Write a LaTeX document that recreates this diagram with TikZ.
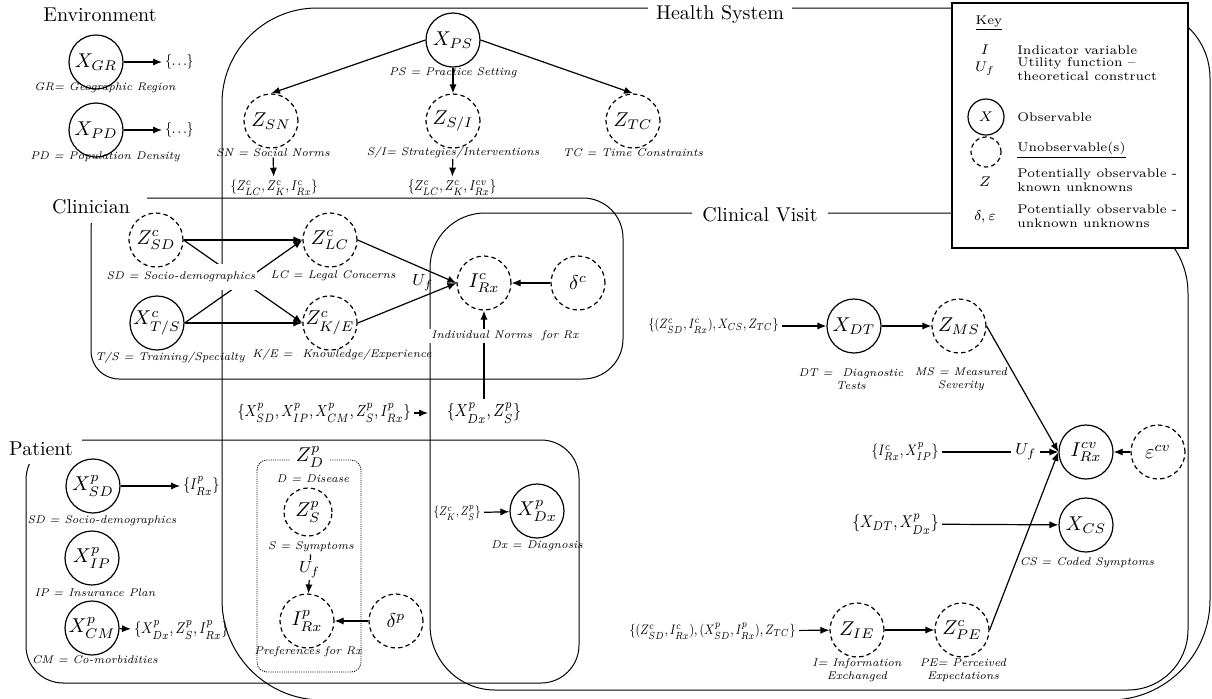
\documentclass[tikz,border=0pt]{standalone}
\usetikzlibrary{arrows.meta}
\newcommand\fitw[2]{\scalebox{1}[1.22]{\resizebox{#1}{!}{#2}}}
\begin{document}
\begin{tikzpicture}[x=0.5pt,y=-0.5pt,
  every node/.style={inner sep=0pt},
  region/.style={line width=0.5pt},
  obs/.style={circle,draw,line width=0.6pt,minimum size=27pt,inner sep=0pt,font=\fontsize{10}{12}\selectfont},
  unobs/.style={obs,dash pattern=on 2.2pt off 1.6pt},
  lbl/.style={font=\fontsize{5.6}{6.4}\selectfont\itshape,align=center},
  setn/.style={font=\fontsize{8}{9}\selectfont,inner sep=1.5pt},
  sect/.style={font=\fontsize{10}{12}\selectfont,fill=white,inner xsep=4pt,inner ysep=2pt},
  arr/.style={-{Latex[length=4.5pt,width=3.6pt]},line width=0.6pt},
  keytxt/.style={font=\fontsize{6.3}{6.7}\selectfont,align=left,anchor=west},
  keysym/.style={font=\fontsize{7.5}{9}\selectfont}
]
\useasboundingbox (0,0) rectangle (1212,698);

% ---------- region outlines ----------
% Health System
\draw[region] (222,600) -- (222,103) .. controls (222,50.6) and (264.6,8) .. (317,8) -- (1140,8) .. controls (1178.6,8) and (1210,39.4) .. (1210,78) -- (1210,600) .. controls (1210,655.2) and (1165.2,700) .. (1110,700) -- (322,700) .. controls (266.8,700) and (222,655.2) .. (222,600) -- cycle;
% Clinical Visit
\draw[region] (430,625) -- (430,268) .. controls (430,237.6) and (454.6,213) .. (485,213) -- (1108,213) .. controls (1152.2,213) and (1188,248.8) .. (1188,293) -- (1188,630) .. controls (1188,663.1) and (1161.1,690) .. (1128,690) -- (495,690) .. controls (459.1,690) and (430,660.9) .. (430,625) -- cycle;
% Clinician
\draw[region] (91,351) -- (91,228) .. controls (91,211.4) and (104.4,198) .. (121,198) -- (583,198) .. controls (605.1,198) and (623,215.9) .. (623,238) -- (623,339) .. controls (623,361.1) and (605.1,379) .. (583,379) -- (119,379) .. controls (103.5,379) and (91,366.5) .. (91,351) -- cycle;
% Patient
\draw[region] (26,646) -- (26,480) .. controls (26,457.9) and (43.9,440) .. (66,440) -- (541,440) .. controls (562,440) and (579,457) .. (579,478) -- (579,645) .. controls (579,666) and (562,683) .. (541,683) -- (63,683) .. controls (42.6,683) and (26,666.4) .. (26,646) -- cycle;
% Disease box
\draw[line width=0.45pt,dash pattern=on 0.5pt off 0.6pt,rounded corners=5pt] (257,460) rectangle (361,672);

% ---------- section labels ----------
\node[font=\fontsize{10}{12}\selectfont] (envlab) at (100,15) {Environment};
\node[sect] (hslab) at (720,14) {Health System};
\node[sect,inner xsep=5pt] (cvlab) at (760,215) {Clinical Visit};
\node[sect,minimum width=56pt,minimum height=16pt] (cllab) at (91,207) {Clinician};
\node[sect,minimum width=41pt,minimum height=15pt] (palab) at (41,449) {Patient};

% ---------- Environment ----------
\node[obs] (xgr) at (96,62) {$X_{GR}$};
\node[lbl] (xgrl) at (105,88) {GR= Geographic Region};
\node[setn,anchor=west] (xgrs) at (162,62) {\fitw{14pt}{$\{\ldots\}$}};
\draw[arr] (xgr) -- (xgrs);
\node[obs] (xpd) at (96,130) {$X_{PD}$};
\node[lbl] (xpdl) at (105,157) {PD = Population Density};
\node[setn,anchor=west] (xpds) at (162,130) {\fitw{14pt}{$\{\ldots\}$}};
\draw[arr] (xpd) -- (xpds);

% ---------- Health System ----------
\node[obs] (xps) at (453,40) {$X_{PS}$};
\node[lbl] (xpsl) at (453,73) {PS = Practice Setting};
\node[unobs] (zsn) at (271,121) {$Z_{SN}$};
\node[lbl] (zsnl) at (273,153) {SN = Social Norms};
\node[unobs] (zsi) at (453,121) {$Z_{S/I}$};
\node[lbl] (zsil) at (453,153) {S/I= Strategies/Interventions};
\node[unobs] (ztc) at (633,121) {$Z_{TC}$};
\node[lbl] (ztcl) at (633,153) {TC = Time Constraints};
\draw[arr] (xps.west) -- (zsn.north);
\draw[arr] (xps.south) -- (zsi.north);
\draw[arr] (xps.east) -- (ztc.north);
\node[setn] (snset) at (274,188) {\fitw{43.5pt}{$\{Z^{c}_{LC}, Z^{c}_{K}, I^{c}_{Rx}\}$}};
\node[setn] (siset) at (452,188) {\fitw{44pt}{$\{Z^{c}_{LC}, Z^{c}_{K}, I^{cv}_{Rx}\}$}};
\draw[arr] (zsnl) -- (snset);
\draw[arr] (zsil) -- (siset);

% ---------- Clinician ----------
\node[unobs] (zsdc) at (156,240) {$Z^{c}_{SD}$};
\node[obs] (xtsc) at (157,323) {$X^{c}_{T/S}$};
\node[unobs] (zlc) at (330,240) {$Z^{c}_{LC}$};
\node[unobs] (zke) at (330,323) {$Z^{c}_{K/E}$};
\node[lbl] (xtscl) at (170,358) {T/S = Training/Specialty};
\node[lbl] (zkel) at (342,355) {K/E =\ \ Knowledge/Experience};
\node[lbl] (zlcl) at (333,276) {LC = Legal Concerns};
\draw[arr] (zsdc.east) -- (zlc.west);
\draw[arr] (xtsc.east) -- (zke.west);
\draw[arr] (zsdc.east) -- (zke.west);
\draw[arr] (xtsc.east) -- (zlc.west);
\fill[white] (190,264) rectangle (257,290);
\node[lbl] (zsdcl) at (181,277) {SD = Socio-demographics};

\node[unobs] (irxc) at (484,283) {$I^{c}_{Rx}$};
\node[unobs] (dc) at (578,283) {$\delta^{c}$};
\draw[arr] (dc.west) -- (irxc.east);
\draw[arr] (zlc.east) -- (irxc.west);
\draw[arr] (zke.east) -- (irxc.west);
\node[font=\fontsize{8}{9}\selectfont] (ufc) at (423,283) {$U_f$};
\node[setn] (dxset) at (484,413) {\fitw{37pt}{$\{X^{p}_{Dx}, Z^{p}_{S}\}$}};
\draw[arr] (dxset) -- (irxc);
\node[lbl,fill=white,inner sep=1pt] (irxcl) at (505,336) {Individual Norms\ \ for Rx};
\node[setn,anchor=east] (pset) at (414,413) {\fitw{86.5pt}{$\{X^{p}_{SD}, X^{p}_{IP}, X^{p}_{CM}, Z^{p}_{S}, I^{p}_{Rx}\}$}};
\coordinate (cvedge) at (428,413);
\draw[arr] (pset) -- (cvedge);

% ---------- Patient ----------
\node[obs] (xsdp) at (93,486) {$X^{p}_{SD}$};
\node[lbl] (xsdpl) at (102,521) {SD = Socio-demographics};
\node[setn,anchor=west] (xsdps) at (180,486) {\fitw{18pt}{$\{I^{p}_{Rx}\}$}};
\draw[arr] (xsdp) -- (xsdps);
\node[obs] (xipp) at (92,558) {$X^{p}_{IP}$};
\node[lbl] (xippl) at (95,593) {IP = Insurance Plan};
\node[obs] (xcmp) at (92,628) {$X^{p}_{CM}$};
\node[lbl] (xcmpl) at (95,660) {CM = Co-morbidities};
\node[setn,anchor=west] (xcmps) at (131,630) {\fitw{47pt}{$\{X^{p}_{Dx}, Z^{p}_{S}, I^{p}_{Rx}\}$}};
\draw[arr] (xcmp) -- (xcmps);

\node[font=\fontsize{10}{12}\selectfont,fill=white,inner xsep=3pt,inner ysep=0pt] (zdp) at (310,457) {$Z^{p}_{D}$};
\node[lbl] (zdpl) at (313,479) {D = Disease};
\node[unobs,minimum size=24pt] (zsp) at (308,512) {$Z^{p}_{S}$};
\node[lbl,fill=white,inner sep=1pt] (zspl) at (311,547) {S = Symptoms};
\node[unobs] (irxp) at (307,621) {$I^{p}_{Rx}$};
\node[lbl] (irxpl) at (308,652) {Preferences for Rx};
\draw[arr] (zspl) -- (irxp) node[pos=0.4,fill=white,inner sep=1pt,font=\fontsize{8}{9}\selectfont] {$U_f$};
\node[unobs] (dp) at (396,621) {$\delta^{p}$};
\draw[arr] (dp.west) -- (irxp.east);

\node[setn,anchor=east] (dxin) at (484,513) {\fitw{23.5pt}{$\{Z^{c}_{K}, Z^{p}_{S}\}$}};
\node[obs] (xdx) at (537,511) {$X^{p}_{Dx}$};
\node[lbl] (xdxl) at (537,546) {Dx = Diagnosis};
\draw[arr] (dxin) -- (xdx);

% ---------- Clinical Visit ----------
\node[setn,anchor=east] (dtin) at (782,326) {\fitw{65pt}{$\{(Z^{c}_{SD}, I^{c}_{Rx}), X_{CS}, Z_{TC}\}$}};
\node[obs] (xdt) at (854,326) {$X_{DT}$};
\node[unobs] (zms) at (959,326) {$Z_{MS}$};
\draw[arr] (dtin) -- (xdt);
\draw[arr] (xdt) -- (zms);
\node[lbl] (xdtl) at (851,379) {DT =\ \ Diagnostic\\Tests};
\node[lbl] (zmsl) at (961,379) {MS = Measured\\Severity};

\node[obs] (irxcv) at (1086,452) {$I^{cv}_{Rx}$};
\node[unobs] (ecv) at (1158,452) {$\varepsilon^{cv}$};
\draw[arr] (ecv.west) -- (irxcv.east);
\node[setn,anchor=east] (cvin) at (942,452) {\fitw{33.5pt}{$\{I^{c}_{Rx}, X^{p}_{IP}\}$}};
\draw[arr] (cvin) -- (irxcv.west) node[pos=0.72,fill=white,inner xsep=2pt,font=\fontsize{8}{9}\selectfont] {$U_f$};
\draw[arr] (zms.east) -- (irxcv.west);

\node[setn,anchor=east] (csin) at (942,524) {\fitw{43pt}{$\{X_{DT}, X^{p}_{Dx}\}$}};
\node[obs] (xcs) at (1086,525) {$X_{CS}$};
\node[lbl] (xcsl) at (1087,563) {CS = Coded Symptoms};
\draw[arr] (csin) -- (xcs);

\node[setn,anchor=east] (iein) at (799,631) {\fitw{83pt}{$\{(Z^{c}_{SD}, I^{c}_{Rx}), (X^{p}_{SD}, I^{p}_{Rx}), Z_{TC}\}$}};
\node[unobs] (zie) at (857,630) {$Z_{IE}$};
\node[unobs] (zpe) at (962,630) {$Z^{c}_{PE}$};
\draw[arr] (iein) -- (zie);
\draw[arr] (zie) -- (zpe);
\draw[arr] (zpe.east) -- (irxcv.west);
\node[lbl] (ziel) at (857,670) {I= Information\\Exchanged};
\node[lbl] (zpel) at (963,670) {PE= Perceived\\Expectations};

% ---------- Key ----------
\draw[line width=0.6pt,fill=white] (952,3) rectangle (1188,248);
\node[keytxt,anchor=center] (keyt) at (989,23) {\underline{Key}};
\node[keysym] (k1s) at (985,50) {$I$};
\node[keytxt] (k1t) at (1017,50) {Indicator variable};
\node[keysym] (k2s) at (985,69) {$U_f$};
\node[keytxt] (k2t) at (1017,69) {Utility function --\\theoretical construct};
\node[circle,draw,line width=0.6pt,minimum size=18pt,keysym] (k3s) at (986,117) {$X$};
\node[keytxt] (k3t) at (1017,117) {Observable};
\node[circle,draw,line width=0.6pt,minimum size=15pt,dash pattern=on 2.2pt off 1.6pt] (k4s) at (986,152) {};
\node[keytxt] (k4t) at (1017,150) {\underline{Unobservable(s)}};
\node[keysym] (k5s) at (985,182) {$Z$};
\node[keytxt] (k5t) at (1017,180) {Potentially observable -\\known unknowns};
\node[keysym] (k6s) at (985,217) {$\delta,\varepsilon$};
\node[keytxt] (k6t) at (1017,216) {Potentially observable -\\unknown unknowns};
\end{tikzpicture}
\end{document}
